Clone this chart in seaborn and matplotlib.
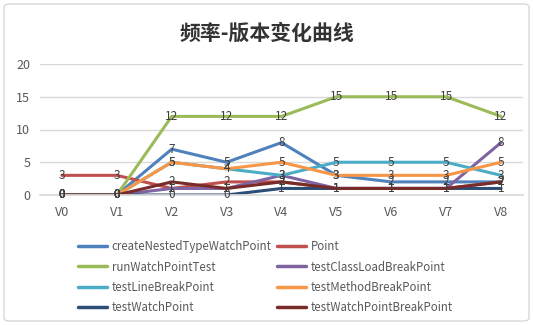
import matplotlib
matplotlib.use("Agg")
import matplotlib.pyplot as plt
from matplotlib.patches import FancyBboxPatch
import seaborn as sns
import pandas as pd

versions = ["V0", "V1", "V2", "V3", "V4", "V5", "V6", "V7", "V8"]
createNestedTypeWatchPoint = [0, 0, 7, 5, 8, 3, 2, 2, 2]
point = [3, 3, 1, 2, 2, 1, 1, 1, 2]
runWatchPointTest = [0, 0, 12, 12, 12, 15, 15, 15, 12]
testClassLoadBreakPoint = [0, 0, 1, 1, 3, 1, 1, 1, 8]
testLineBreakPoint = [0, 0, 5, 4, 3, 5, 5, 5, 3]
testMethodBreakPoint = [0, 0, 5, 4, 5, 3, 3, 3, 5]
testWatchPoint = [0, 0, 0, 0, 1, 1, 1, 1, 1]
testWatchPointBreakPoint = [0, 0, 2, 1, 2, 1, 1, 1, 2]

series_names = ["createNestedTypeWatchPoint", "Point", "runWatchPointTest",
                "testClassLoadBreakPoint", "testLineBreakPoint", "testMethodBreakPoint",
                "testWatchPoint", "testWatchPointBreakPoint"]
series_values = [createNestedTypeWatchPoint, point, runWatchPointTest,
                 testClassLoadBreakPoint, testLineBreakPoint, testMethodBreakPoint,
                 testWatchPoint, testWatchPointBreakPoint]
colors = ["#4F81BD", "#C0504D", "#9BBB59", "#8064A2", "#4BACC6", "#F79646",
          "#2C4D75", "#772C2A"]
title = "频率-版本变化曲线"

rows = []
for name, vals in zip(series_names, series_values):
    for i, v in enumerate(vals):
        rows.append({"series": name, "x": i, "value": v})
df = pd.DataFrame(rows)

sns.set_theme(style="white")
plt.rcParams['font.family'] = ['Noto Sans CJK SC', 'DejaVu Sans']

fig = plt.figure(figsize=(5.33, 3.25), dpi=100)
ax = fig.add_axes([40/533, (325-195)/325, (523-40)/533, (195-64)/325])

sns.lineplot(data=df, x="x", y="value", hue="series", hue_order=series_names,
             palette=colors, linewidth=2.2, ax=ax, legend=True)

# data labels
for name, vals in zip(series_names, series_values):
    for i, v in enumerate(vals):
        ax.text(i, v, str(v), ha="center", va="center", fontsize=8.5,
                color="#404040", zorder=5)

ax.set_xlim(-0.4, 8.4)
ax.set_ylim(0, 20)
ax.set_yticks([0, 5, 10, 15, 20])
ax.set_xticks(range(len(versions)))
ax.set_xticklabels(versions)
ax.set_xlabel("")
ax.set_ylabel("")
ax.yaxis.grid(True, color="#D9D9D9", linewidth=1)
ax.set_axisbelow(True)
for s in ["top", "right", "left"]:
    ax.spines[s].set_visible(False)
ax.spines["bottom"].set_color("#D9D9D9")
ax.tick_params(axis="both", length=0, labelsize=9, colors="#595959")
ax.tick_params(axis="x", pad=8)
ax.tick_params(axis="y", pad=7)

handles, labels = ax.get_legend_handles_labels()
order = [0, 2, 4, 6, 1, 3, 5, 7]
leg = ax.legend([handles[i] for i in order], [labels[i] for i in order],
                ncol=2, loc="upper left", bbox_to_anchor=(68/533, (325-230)/325),
                bbox_transform=fig.transFigure, frameon=False, fontsize=8.3,
                handlelength=2.5, columnspacing=0.5, labelspacing=0.62,
                handletextpad=0.4)
for t in leg.get_texts():
    t.set_color("#595959")
for line in leg.get_lines():
    line.set_linewidth(2.5)

fig.text(0.5, 1 - 33/325, title, ha="center", va="center", fontsize=15,
         fontweight="bold", color="#333333")

border = FancyBboxPatch((4/533, 4/325), 1 - 8/533, 1 - 8/325,
                        boxstyle="round,pad=0,rounding_size=0.01",
                        transform=fig.transFigure, fill=False,
                        edgecolor="#D9D9D9", linewidth=1)
fig.patches.append(border)

fig.savefig("out.png", dpi=100)
